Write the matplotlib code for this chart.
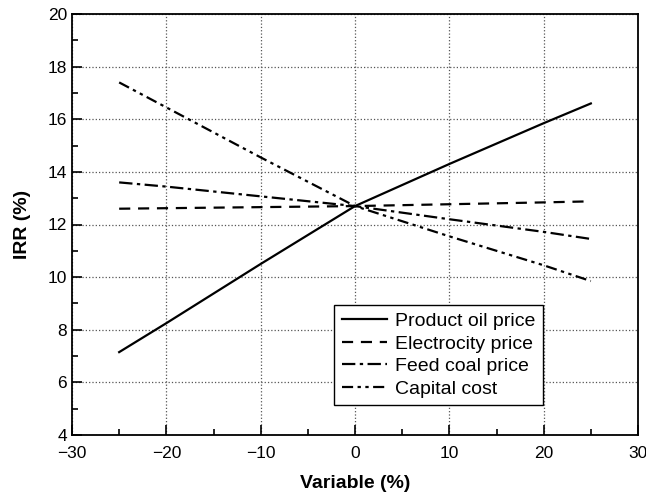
import matplotlib
matplotlib.use("Agg")
import matplotlib.pyplot as plt
from matplotlib.ticker import MultipleLocator

plt.rcParams['font.family'] = ['Liberation Sans', 'DejaVu Sans']

# Sensitivity data
variable = [-25, -20, -10, 0, 10, 20, 25]
oil_price = [7.15, 8.25, 10.5, 12.7, 14.3, 15.85, 16.6]
electricity_price = [12.6, 12.62, 12.66, 12.7, 12.77, 12.84, 12.88]
coal_price = [13.6, 13.44, 13.07, 12.7, 12.2, 11.72, 11.45]
capital_cost = [17.4, 16.45, 14.55, 12.7, 11.55, 10.45, 9.85]

fig = plt.figure(figsize=(6.46, 4.95), dpi=100)
ax = fig.add_axes([72/646, 1 - 435/495, 566/646, 421/495])

ax.plot(variable, oil_price, color='black', lw=1.6, ls='-', label='Product oil price')
ax.plot(variable, electricity_price, color='black', lw=1.6, ls=(0, (5, 3.5)), label='Electrocity price')
ax.plot(variable, coal_price, color='black', lw=1.6, ls=(0, (6, 2, 1.5, 2)), label='Feed coal price')
ax.plot(variable, capital_cost, color='black', lw=1.6, ls=(0, (5, 2, 1.5, 2, 1.5, 2)), label='Capital cost')

ax.set_xlim(-30, 30)
ax.set_ylim(4, 20)
ax.xaxis.set_major_locator(MultipleLocator(10))
ax.xaxis.set_minor_locator(MultipleLocator(5))
ax.yaxis.set_major_locator(MultipleLocator(2))
ax.yaxis.set_minor_locator(MultipleLocator(1))
ax.tick_params(which='both', direction='in', top=False, right=False, labelsize=12.5, width=1.2)
ax.tick_params(which='major', length=7)
ax.tick_params(which='minor', length=4)
ax.tick_params(axis='x', pad=8)
ax.grid(True, which='major', color='#555555', ls=':', lw=0.9)

for sp in ax.spines.values():
    sp.set_linewidth(1.3)

ax.set_xlabel('Variable (%)', fontsize=14, fontweight='bold', labelpad=10)
ax.set_ylabel('IRR (%)', fontsize=14, fontweight='bold', labelpad=12)

leg = ax.legend(loc='upper right', bbox_to_anchor=(0.832, 0.309), borderaxespad=0,
                fontsize=14, frameon=True, fancybox=False, edgecolor='black',
                framealpha=1, handlelength=2.3, handletextpad=0.4,
                labelspacing=0.25, borderpad=0.4)
leg.get_frame().set_linewidth(1.0)

fig.savefig('out.png', dpi=100)
